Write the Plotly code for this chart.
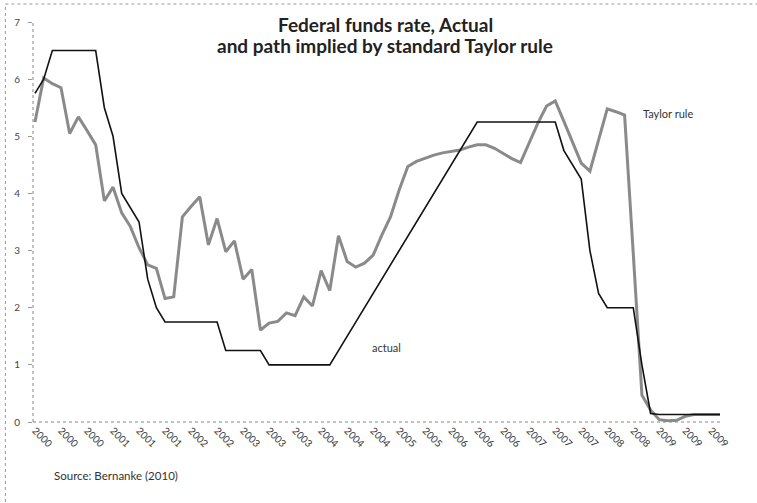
import plotly.graph_objects as go

# FOMC meeting index (8 meetings per year, 2000-2009)
meeting_idx = list(range(80))

actual = [5.75, 6.0, 6.5, 6.5, 6.5, 6.5, 6.5, 6.5,
          5.5, 5.0, 4.0, 3.75, 3.5, 2.5, 2.0, 1.75,
          1.75, 1.75, 1.75, 1.75, 1.75, 1.75, 1.25, 1.25,
          1.25, 1.25, 1.25, 1.0, 1.0, 1.0, 1.0, 1.0,
          1.0, 1.0, 1.0, 1.25, 1.5, 1.75, 2.0, 2.25,
          2.5, 2.75, 3.0, 3.25, 3.5, 3.75, 4.0, 4.25,
          4.5, 4.75, 5.0, 5.25, 5.25, 5.25, 5.25, 5.25,
          5.25, 5.25, 5.25, 5.25, 5.25, 4.75, 4.5, 4.25,
          3.0, 2.25, 2.0, 2.0, 2.0, 2.0, 1.0, 0.15,
          0.13, 0.13, 0.13, 0.13, 0.13, 0.13, 0.13, 0.13]

taylor = [5.25, 6.02, 5.92, 5.85, 5.05, 5.34, 5.1, 4.85,
          3.87, 4.11, 3.66, 3.42, 3.05, 2.75, 2.69, 2.16,
          2.19, 3.59, 3.77, 3.94, 3.10, 3.56, 2.98, 3.17,
          2.50, 2.67, 1.61, 1.73, 1.76, 1.91, 1.86, 2.19,
          2.03, 2.65, 2.30, 3.26, 2.81, 2.71, 2.78, 2.92,
          3.27, 3.59, 4.06, 4.47, 4.56, 4.62, 4.67, 4.71,
          4.73, 4.76, 4.81, 4.85, 4.85, 4.79, 4.70, 4.61,
          4.54, 4.88, 5.23, 5.53, 5.62, 5.26, 4.88, 4.53,
          4.39, 4.94, 5.48, 5.43, 5.37, 2.95, 0.47, 0.21,
          0.04, 0.02, 0.03, 0.10, 0.13, 0.13, 0.13, 0.13]

tick_idx = list(range(0, 80, 3))
tick_labels = ["2000", "2000", "2000", "2001", "2001", "2001", "2002", "2002",
               "2003", "2003", "2003", "2004", "2004", "2004", "2005", "2005",
               "2006", "2006", "2006", "2007", "2007", "2007", "2008", "2008",
               "2009", "2009", "2009"]

title_lines = ["Federal funds rate, Actual", "and path implied by standard Taylor rule"]
source_text = "Source: Bernanke (2010)"

FONT = "Lato, Liberation Sans, sans-serif"

fig = go.Figure()
fig.add_trace(go.Scatter(x=meeting_idx, y=taylor, mode="lines", name="Taylor rule",
                         line=dict(color="#8a8a8a", width=3)))
fig.add_trace(go.Scatter(x=meeting_idx, y=actual, mode="lines", name="actual",
                         line=dict(color="#111111", width=1.6)))

fig.update_layout(
    width=757, height=503,
    margin=dict(l=33, r=34, t=22, b=81),
    paper_bgcolor="white", plot_bgcolor="white",
    showlegend=False,
    xaxis=dict(range=[-0.23, 79.35], tickmode="array", tickvals=tick_idx, ticktext=tick_labels,
               tickangle=45, showgrid=False, zeroline=False, showline=False, ticks="",
               automargin=False,
               tickfont=dict(family=FONT, size=10, color="#333333")),
    yaxis=dict(range=[0, 7], tickvals=[0, 1, 2, 3, 4, 5, 6, 7], showgrid=False, zeroline=False,
               showline=False, ticks="outside", ticklen=4, tickcolor="#999999",
               ticklabelstandoff=6, automargin=False,
               tickfont=dict(family=FONT, size=10, color="#444444")),
)

# dotted axis lines
fig.add_shape(type="line", xref="paper", yref="paper", x0=0, x1=0, y0=0, y1=1,
              line=dict(color="#888888", width=1, dash="dot"))
fig.add_shape(type="line", xref="paper", yref="paper", x0=0, x1=1, y0=0, y1=0,
              line=dict(color="#888888", width=1, dash="dot"))
# chart border (top and left)
fig.add_shape(type="line", xref="paper", yref="paper", x0=-0.04, x1=1.06, y0=1.045, y1=1.045,
              line=dict(color="#999999", width=1, dash="dot"))
fig.add_shape(type="line", xref="paper", yref="paper", x0=-0.04, x1=-0.04, y0=-0.2, y1=1.045,
              line=dict(color="#999999", width=1, dash="dot"))

for line_text, ypix in zip(title_lines, [25, 45]):
    fig.add_annotation(xref="paper", yref="paper", x=(385 - 33) / 690, y=(422 - ypix) / 400,
                       text="<b>" + line_text + "</b>",
                       showarrow=False, xanchor="center", yanchor="middle",
                       font=dict(family=FONT, size=19, color="#222222"))
fig.add_annotation(xref="x", yref="y", x=40.5, y=1.3, text="actual", showarrow=False,
                   xanchor="center", yanchor="middle",
                   font=dict(family=FONT, size=11, color="#333333"))
fig.add_annotation(xref="x", yref="y", x=73.0, y=5.4, text="Taylor rule", showarrow=False,
                   xanchor="center", yanchor="middle",
                   font=dict(family=FONT, size=11, color="#333333"))
fig.add_annotation(xref="paper", yref="paper", x=(52 - 33) / 690, y=(422 - 475) / 400,
                   text=source_text, showarrow=False, xanchor="left", yanchor="middle",
                   font=dict(family=FONT, size=11.5, color="#333333"))

fig.write_html("out.html", config={"displayModeBar": False},
               post_script="document.body.style.margin='0';")
